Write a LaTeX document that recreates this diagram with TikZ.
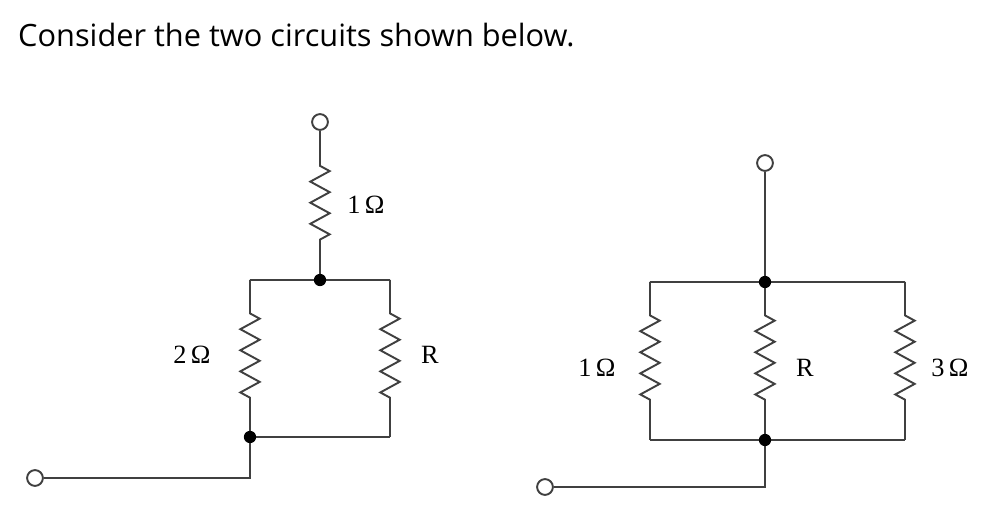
\documentclass[tikz,border=0pt]{standalone}
\usepackage{fontspec}
\setmainfont{Liberation Serif}
\newfontfamily\titlefont{Open Sans}
\usetikzlibrary{decorations.pathmorphing}
\begin{document}
\begin{tikzpicture}[x=0.02cm,y=-0.02cm,
  wire/.style={draw=black!75,line width=1.1pt},
  res/.style={wire,decoration={zigzag,amplitude=5.5pt,segment length=12pt,pre length=#1,post length=#1},decorate},
  res/.default=19pt,
  term/.style={circle,draw=black!75,line width=1.1pt,fill=white,inner sep=0pt,minimum size=9pt},
  dot/.style={circle,fill=black,inner sep=0pt,minimum size=7pt},
  lbl/.style={font=\fontsize{15}{18}\selectfont}]

\useasboundingbox (0,0) rectangle (1002,530);
\node[anchor=west,font=\titlefont\fontsize{17.5}{21}\selectfont] (title) at (12,35) {Consider the two circuits shown below.};

%left circuit
\coordinate (la) at (320,150);
\coordinate (lb) at (320,258);
\coordinate (lt) at (320,280);
\coordinate (ltl) at (250,280);
\coordinate (ltr) at (390,280);
\coordinate (lbn) at (250,437);
\coordinate (lbr) at (390,437);
\coordinate (lc) at (250,478);
\node[term] (lin) at (320,122) {};
\node[term] (lout) at (35,478) {};
\path[wire] (lin) -- (la);
\path[res=9pt] (la) -- (lb);
\path[wire] (lb) -- (lt);
\path[wire] (ltl) -- (ltr);
\path[res] (ltl) -- (lbn);
\path[res] (ltr) -- (lbr);
\path[wire] (lbn) -- (lbr);
\path[wire] (lbn) -- (lc) -- (lout);
\node[dot] (ltd) at (lt) {};
\node[dot] (lbd) at (lbn) {};
\node[lbl] (l1) at (366,205) {1\,Ω};
\node[lbl] (l2) at (192,355) {2\,Ω};
\node[lbl] (lr) at (430,355) {R};

%right circuit
\node[term] (rin) at (765,163) {};
\coordinate (rt) at (765,282);
\coordinate (rtl) at (650,282);
\coordinate (rtr) at (905,282);
\coordinate (rbn) at (765,440);
\coordinate (rbl) at (650,440);
\coordinate (rbr) at (905,440);
\coordinate (rc) at (765,487);
\node[term] (rout) at (545,487) {};
\path[wire] (rin) -- (rt);
\path[wire] (rtl) -- (rtr);
\path[res] (rtl) -- (rbl);
\path[res] (rt) -- (rbn);
\path[res] (rtr) -- (rbr);
\path[wire] (rbl) -- (rbr);
\path[wire] (rbn) -- (rc) -- (rout);
\node[dot] (rtd) at (rt) {};
\node[dot] (rbd) at (rbn) {};
\node[lbl] (r1) at (597,368) {1\,Ω};
\node[lbl] (rr) at (805,368) {R};
\node[lbl] (r3) at (950,368) {3\,Ω};

\end{tikzpicture}
\end{document}
